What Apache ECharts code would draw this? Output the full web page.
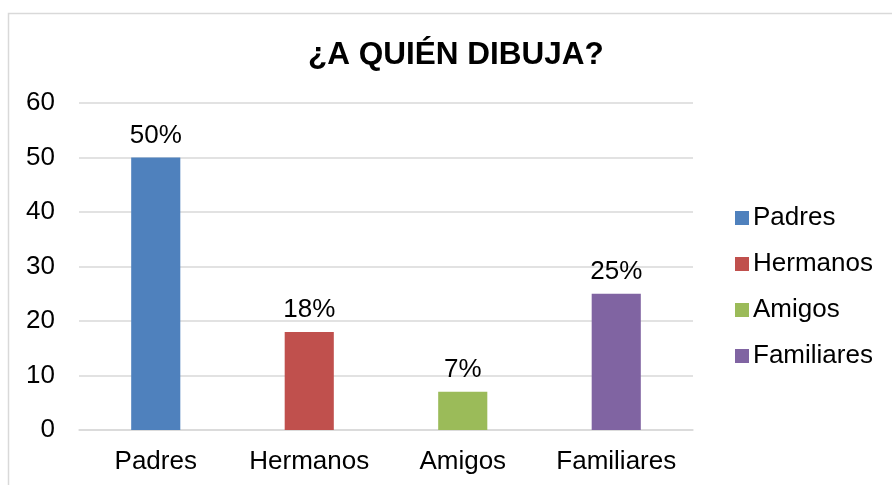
<!DOCTYPE html>
<html>
<head>
<meta charset="utf-8">
<script src="https://cdn.jsdelivr.net/npm/echarts@6/dist/echarts.min.js"></script>
<style>
  html, body { margin: 0; padding: 0; background: #fff; }
  #chart { width: 892px; height: 485px; }
</style>
</head>
<body>
<div id="chart"></div>
<script>
const categories = ['Padres', 'Hermanos', 'Amigos', 'Familiares'];
const values = [50, 18, 7, 25];
const labels = ['50%', '18%', '7%', '25%'];
const colors = ['#4F81BD', '#C0504D', '#9BBB59', '#8064A2'];

const chart = echarts.init(document.getElementById('chart'));

// one series per category so the legend lists each one
const series = categories.map((name, i) => ({
  name: name,
  type: 'bar',
  stack: 'all',
  barWidth: '32%',
  itemStyle: { color: colors[i] },
  label: {
    show: true,
    position: 'top',
    distance: 9,
    color: '#000',
    fontSize: 26,
    fontFamily: 'Liberation Sans',
    formatter: () => labels[i]
  },
  data: categories.map((c, j) => (j === i ? values[i] : '-'))
}));

chart.setOption({
  animation: false,
  textStyle: { fontFamily: 'Liberation Sans' },
  title: {
    text: '¿A QUIÉN DIBUJA?',
    left: 303,
    top: 34,
    textStyle: { fontSize: 31.5, fontWeight: 'bold', color: '#000', fontFamily: 'Liberation Sans' }
  },
  graphic: [{
    type: 'rect',
    shape: { x: 8.5, y: 13.5, width: 900, height: 500 },
    style: { fill: 'none', stroke: '#d9d9d9', lineWidth: 1.5 },
    silent: true
  }],
  legend: {
    orient: 'vertical',
    left: 730,
    top: 200,
    itemWidth: 14,
    itemHeight: 14,
    itemGap: 20,
    icon: 'rect',
    textStyle: { fontSize: 26, lineHeight: 26, color: '#000', padding: [0, 0, 0, -1] }
  },
  grid: { left: 79, right: 199, top: 103, bottom: 55, containLabel: false },
  xAxis: {
    type: 'category',
    data: categories,
    axisTick: { show: false },
    axisLine: { lineStyle: { color: '#d9d9d9', width: 1.5 } },
    axisLabel: { fontSize: 26, color: '#000', margin: 19, interval: 0 }
  },
  yAxis: {
    type: 'value',
    min: 0,
    max: 60,
    interval: 10,
    axisLabel: { fontSize: 26, color: '#000', margin: 24 },
    splitLine: { lineStyle: { color: '#d9d9d9', width: 1.5 } },
    axisLine: { show: false },
    axisTick: { show: false }
  },
  series: series
});
</script>
</body>
</html>
